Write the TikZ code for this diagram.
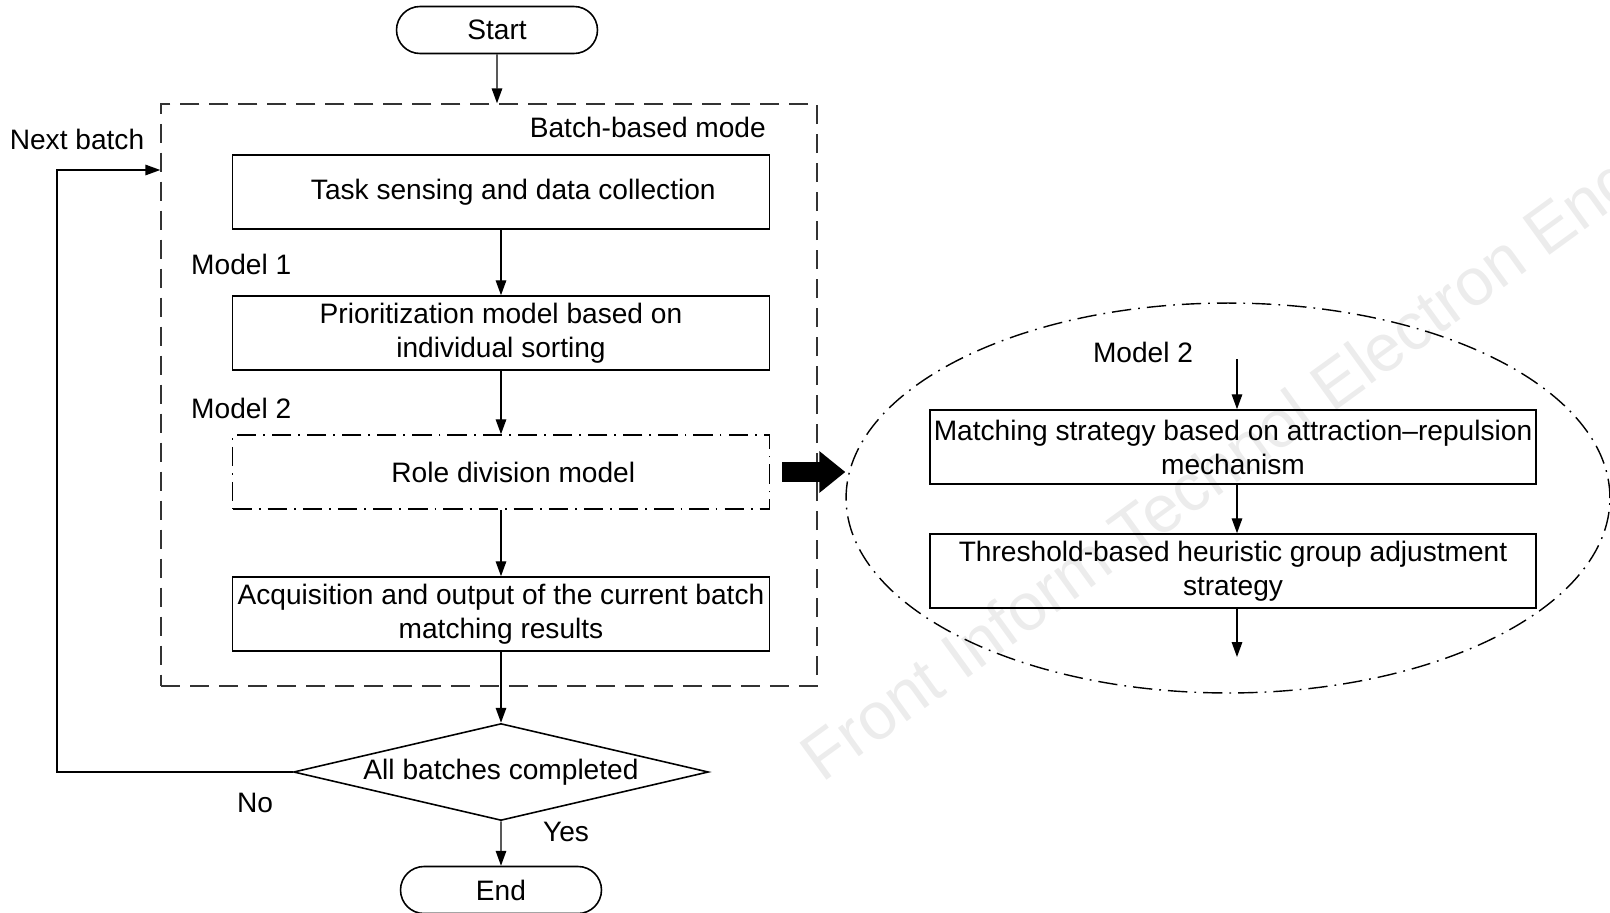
\documentclass[tikz,border=0pt]{standalone}
\usepackage{fontspec}
\setmainfont{Liberation Sans}
\usetikzlibrary{arrows.meta,shapes.geometric,shapes.misc}
\tikzset{
  txt/.style={font=\fontsize{16pt}{19.3pt}\selectfont},
  proc/.style={txt,draw,line width=0.9pt,rectangle,align=center,inner sep=0pt,minimum width=10.74cm,minimum height=1.48cm},
  wideproc/.style={proc,minimum width=12.12cm},
  term/.style={txt,draw,line width=0.9pt,rounded rectangle,inner sep=0pt,minimum width=4.02cm,minimum height=0.94cm},
  flow/.style={line width=0.8pt,-{Triangle[length=8.5pt,width=6pt]}},
  dashdot/.style={dash pattern=on 11pt off 4pt on 1pt off 4pt},
}
\begin{document}
\begin{tikzpicture}[x=0.02cm,y=-0.02cm]
  \useasboundingbox (0,0) rectangle (1610,913);
  \begin{scope}
    \clip (0,0) rectangle (1610,913);
    \node[gray!15,font=\fontsize{38pt}{46pt}\selectfont,anchor=base west,rotate=36,inner sep=0pt] (mark) at (822,784) {Front Inform Technol Electron Eng};
  \end{scope}
  \node[term] (start) at (497,30) {Start};
  \node[draw=black!80,line width=0.9pt,dash pattern=on 11pt off 5.5pt,minimum width=13.12cm,minimum height=11.64cm] (frame) at (489,395) {};
  \node[txt,anchor=east] (mode) at (772,127) {Batch-based mode};
  \node[txt] (next) at (77,139) {Next batch};
  \node[proc] (task) at (501,192) {\hspace{14pt}Task sensing and data collection};
  \node[txt,anchor=west] (m1) at (185,264) {Model 1};
  \node[proc] (prio) at (501,333) {Prioritization model based on\\individual sorting};
  \node[txt,anchor=west] (m2) at (185,408) {Model 2};
  \node[proc,dashdot] (role) at (501,472) {\hspace{14pt}Role division model};
  \node[proc] (acq) at (501,614) {Acquisition and output of the current batch\\matching results};
  \node[txt,draw,line width=0.9pt,diamond,aspect=4.3,inner sep=0pt,minimum width=8.3cm,minimum height=1.94cm] (done) at (501,772) {All batches completed};
  \node[txt] (no) at (255,803) {No};
  \node[txt] (yes) at (566,832) {Yes};
  \node[term] (stop) at (501,890) {End};
  \node[draw,ellipse,dashdot,line width=0.8pt,minimum width=15.28cm,minimum height=7.8cm] (ell) at (1228,498) {};
  \node[txt] (m2r) at (1143,352) {Model 2};
  \node[wideproc] (match) at (1233,447) {Matching strategy based on attraction–repulsion\\mechanism};
  \node[wideproc] (adjust) at (1233,571) {Threshold-based heuristic group adjustment\\strategy};
  \coordinate (turn) at (57,170);
  \coordinate (in2) at (1237,359);
  \coordinate (out2) at (1237,657);
  \draw[flow] (start) -- (start |- frame.north);
  \draw[flow] (task) -- (prio);
  \draw[flow] (prio) -- (role);
  \draw[flow] (role) -- (acq);
  \draw[flow] (acq) -- (done);
  \draw[flow] (done) -- (stop);
  \draw[flow] (done.west) -| (turn) -- (frame.west |- turn);
  \draw[flow] (in2) -- (in2 |- match.north);
  \draw[flow] (match.south -| in2) -- (adjust.north -| in2);
  \draw[flow] (adjust.south -| in2) -- (out2);
  \draw[line width=0.4cm,shorten <=0.24cm,-{Triangle[length=0.52cm,width=0.8cm]}] (role.east) -- (role.east -| ell.west);
\end{tikzpicture}
\end{document}
